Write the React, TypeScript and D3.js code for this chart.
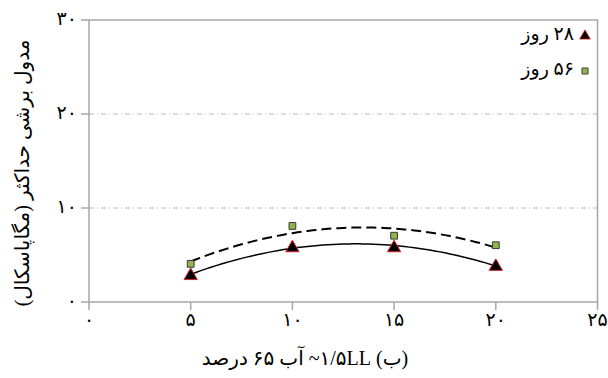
import React from "react";
import * as d3 from "d3";

// x: water content step, y: max shear modulus (MPa)
const xValues = [5, 10, 15, 20];
const days28 = [2.9, 5.86, 5.86, 3.88];
const days56 = [4.06, 8.09, 7.05, 6.04];

const xTicks = [0, 5, 10, 15, 20, 25];
const xTickLabels = ["۰", "۵", "۱۰", "۱۵", "۲۰", "۲۵"];
const yTicks = [0, 10, 20, 30];
const yTickLabels = ["۰", "۱۰", "۲۰", "۳۰"];

const seriesNames = ["۲۸ روز", "۵۶ روز"];
const xTitle = "(ب) ۱/۵LL~ آب ۶۵ درصد";
const yTitle = "مدول برشی حداکثر (مگاپاسکال)";

const W = 608;
const H = 378;
const margin = { left: 89, right: 10.5, top: 20, bottom: 76 };
const FONT = "'Liberation Serif', 'DejaVu Sans', serif";

// least squares quadratic trendline (like a spreadsheet order-2 polynomial)
function quadFit(xs: number[], ys: number[]) {
  const n = xs.length;
  const s = [0, 0, 0, 0, 0];
  const t = [0, 0, 0];
  for (let i = 0; i < n; i++) {
    for (let k = 0; k < 5; k++) s[k] += Math.pow(xs[i], k);
    for (let k = 0; k < 3; k++) t[k] += Math.pow(xs[i], k) * ys[i];
  }
  const m = [
    [s[0], s[1], s[2], t[0]],
    [s[1], s[2], s[3], t[1]],
    [s[2], s[3], s[4], t[2]],
  ];
  for (let i = 0; i < 3; i++) {
    for (let j = i + 1; j < 3; j++) {
      const f = m[j][i] / m[i][i];
      for (let k = i; k < 4; k++) m[j][k] -= f * m[i][k];
    }
  }
  const c = [0, 0, 0];
  for (let i = 2; i >= 0; i--) {
    let v = m[i][3];
    for (let k = i + 1; k < 3; k++) v -= m[i][k] * c[k];
    c[i] = v / m[i][i];
  }
  return (x: number) => c[0] + c[1] * x + c[2] * x * x;
}

export default function App() {
  const x = d3.scaleLinear().domain([0, 25]).range([margin.left, W - margin.right]);
  const y = d3.scaleLinear().domain([0, 30]).range([H - margin.bottom, margin.top]);

  const x0 = x(0), x1 = x(25), y0 = y(0), y1 = y(30);

  const line = d3
    .line<number>()
    .x((d) => x(d))
    .curve(d3.curveLinear);

  const xMin = d3.min(xValues) as number;
  const xMax = d3.max(xValues) as number;
  const samples = d3.range(xMin, xMax + 0.001, 0.25);

  const fit28 = quadFit(xValues, days28);
  const fit56 = quadFit(xValues, days56);

  const tri = d3.symbol().type(d3.symbolTriangle).size(76);
  const sq = d3.symbol().type(d3.symbolSquare).size(46);

  return (
    <svg
      width={W}
      height={H}
      style={{ position: "absolute", left: 0, top: 0, background: "#fff" }}
      fontFamily={FONT}
    >
      {/* grid lines */}
      {yTicks
        .filter((v) => v > 0 && v < 30)
        .map((v) => (
          <line
            key={"g" + v}
            x1={x0}
            x2={x1}
            y1={y(v)}
            y2={y(v)}
            stroke="#b8b8b8"
            strokeWidth={1}
            strokeDasharray="5,3,1,3"
          />
        ))}

      {/* frame */}
      <rect x={x0} y={y1} width={x1 - x0} height={y0 - y1} fill="none" stroke="#a6a6a6" strokeWidth={1.5} />

      {/* ticks */}
      {xTicks.map((v, i) => (
        <g key={"xt" + v}>
          <line x1={x(v)} x2={x(v)} y1={y0} y2={y0 + 8} stroke="#a6a6a6" strokeWidth={1.5} />
          <text x={x(v)} y={y0 + 20} textAnchor="middle" dominantBaseline="middle" fontSize={19} fill="#000">
            {xTickLabels[i]}
          </text>
        </g>
      ))}
      {yTicks.map((v, i) => (
        <g key={"yt" + v}>
          <line x1={x0 - 8} x2={x0} y1={y(v)} y2={y(v)} stroke="#a6a6a6" strokeWidth={1.5} />
          <text x={x0 - 12} y={y(v) + 1} textAnchor="end" dominantBaseline="middle" fontSize={19} fill="#000">
            {yTickLabels[i]}
          </text>
        </g>
      ))}

      {/* trendlines */}
      <path
        d={line.y((d) => y(fit28(d)))(samples) || ""}
        fill="none"
        stroke="#000"
        strokeWidth={1.5}
      />
      <path
        d={line.y((d) => y(fit56(d)))(samples) || ""}
        fill="none"
        stroke="#000"
        strokeWidth={2}
        strokeDasharray="10,5"
      />

      {/* markers */}
      {xValues.map((v, i) => (
        <path
          key={"s" + i}
          d={sq() || ""}
          transform={`translate(${x(v)},${y(days56[i])})`}
          fill="#8fb449"
          stroke="#3a3a3a"
          strokeWidth={1}
        />
      ))}
      {xValues.map((v, i) => (
        <path
          key={"t" + i}
          d={tri() || ""}
          transform={`translate(${x(v)},${y(days28[i]) + 1})`}
          fill="#000"
          stroke="#d42020"
          strokeWidth={1}
        />
      ))}

      {/* legend */}
      <path d={tri() || ""} transform="translate(585,36) scale(0.8)" fill="#000" stroke="#d42020" strokeWidth={1} />
      <text x={574} y={36} direction="rtl" textAnchor="start" dominantBaseline="middle" fontSize={19} fill="#000">
        {seriesNames[0]}
      </text>
      <path d={sq() || ""} transform="translate(585,71) scale(0.9)" fill="#8fb449" stroke="#3a3a3a" strokeWidth={1} />
      <text x={574} y={71} direction="rtl" textAnchor="start" dominantBaseline="middle" fontSize={19} fill="#000">
        {seriesNames[1]}
      </text>

      {/* axis titles */}
      <text x={305} y={360} direction="rtl" textAnchor="middle" dominantBaseline="middle" fontSize={20} fill="#000">
        {xTitle}
      </text>
      <text
        transform="translate(24,173) rotate(-90)"
        direction="rtl"
        textAnchor="middle"
        dominantBaseline="middle"
        fontSize={20}
        fill="#000"
      >
        {yTitle}
      </text>
    </svg>
  );
}
